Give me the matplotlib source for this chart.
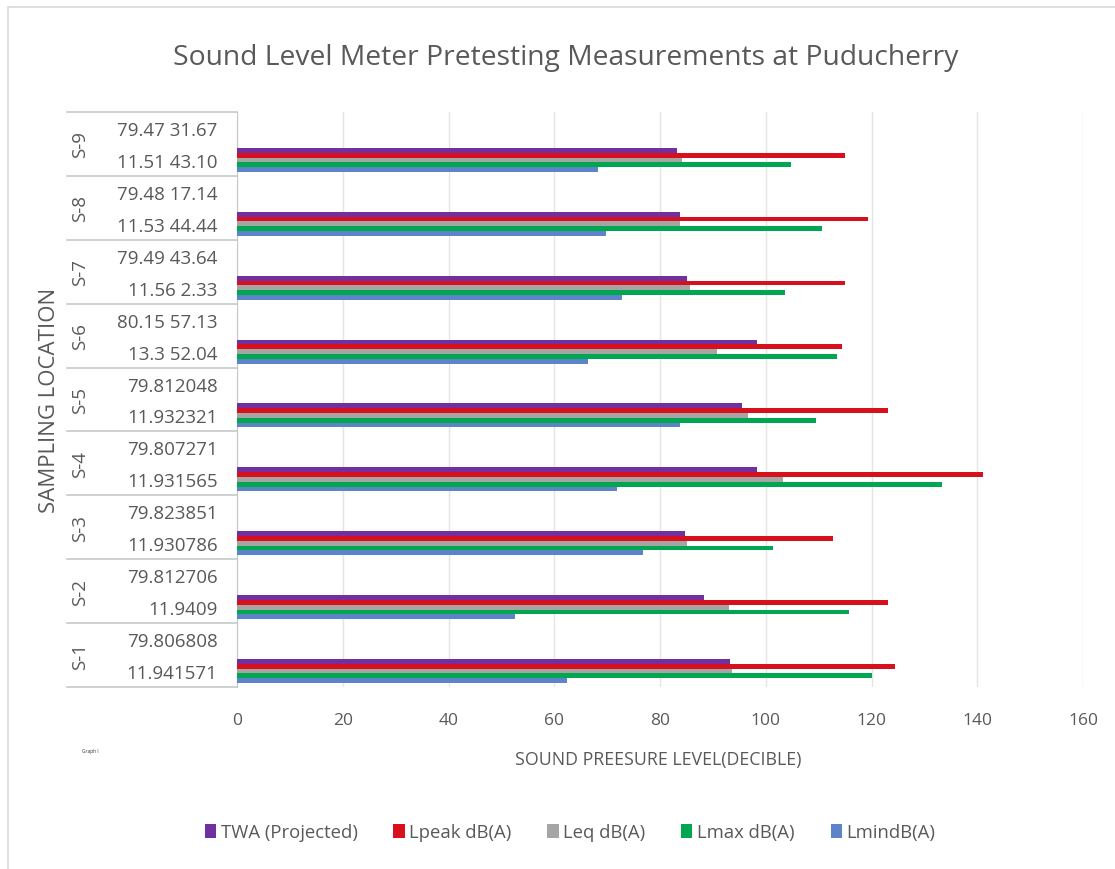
import matplotlib.pyplot as plt
import matplotlib.transforms as mtransforms
from matplotlib.patches import Patch, Rectangle
import numpy as np

plt.rcParams['font.family'] = ['Open Sans', 'DejaVu Sans']

# sampling sites, bottom to top
sites = ['S-1', 'S-2', 'S-3', 'S-4', 'S-5', 'S-6', 'S-7', 'S-8', 'S-9']
longitudes = ['79.806808', '79.812706', '79.823851', '79.807271', '79.812048',
              '80.15 57.13', '79.49 43.64', '79.48 17.14', '79.47 31.67']
latitudes = ['11.941571', '11.9409', '11.930786', '11.931565', '11.932321',
             '13.3 52.04', '11.56 2.33', '11.53 44.44', '11.51 43.10']

series_names = ['TWA (Projected)', 'Lpeak dB(A)', 'Leq dB(A)', 'Lmax dB(A)', 'LmindB(A)']
twa = [93.2, 88.3, 84.7, 98.3, 95.5, 98.3, 85.1, 83.7, 83.2]
lpeak = [124.4, 123.1, 112.7, 141.0, 123.1, 114.5, 114.9, 119.3, 114.9]
leq = [93.6, 93.0, 85.1, 103.2, 96.6, 90.7, 85.6, 83.7, 84.1]
lmax = [120.0, 115.7, 101.3, 133.3, 109.5, 113.4, 103.6, 110.6, 104.7]
lmin = [62.4, 52.6, 76.7, 71.8, 83.7, 66.4, 72.8, 69.8, 68.2]
colors = ['#7030A0', '#D8101E', '#A5A5A5', '#00A650', '#5B85C8']

W, H = 1115, 870
fig = plt.figure(figsize=(W / 100, H / 100), dpi=100)
ax = fig.add_axes([237 / W, 1 - 688 / H, (1083 - 237) / W, (688 - 113) / H])

text_col = '#595959'
line_col = '#c8c8c8'

# outer chart frame
fig.patches.append(Rectangle((8 / W, -0.02), 1.05, 1 - 8 / H + 0.02, transform=fig.transFigure,
                             fill=False, edgecolor='#d9d9d9', lw=1.2))

lat_pos = np.arange(len(sites)) * 2
bar_h = 0.15
for i, (vals, name, col) in enumerate(zip([twa, lpeak, leq, lmax, lmin], series_names, colors)):
    ax.barh(lat_pos + 0.3 - bar_h * i, vals, height=bar_h, color=col, label=name, zorder=3)

ax.set_xlim(0, 160)
ax.set_ylim(-0.5, 2 * len(sites) - 0.5)
ax.set_xticks(np.arange(0, 161, 20))
ax.grid(axis='x', color='#e4e4e4', lw=1, zorder=0)
ax.set_axisbelow(True)

ytick_pos = []
ytick_lab = []
for k in range(len(sites)):
    ytick_pos += [2 * k, 2 * k + 1]
    ytick_lab += [latitudes[k], longitudes[k]]
ax.set_yticks(ytick_pos)
ax.set_yticklabels(ytick_lab)
ax.tick_params(axis='y', length=0, pad=14, labelsize=13.5, labelcolor=text_col)
ax.tick_params(axis='x', length=0, pad=18, labelsize=12.5, labelcolor=text_col)

for s in ['top', 'right', 'bottom']:
    ax.spines[s].set_visible(False)
ax.spines['left'].set_color(line_col)

blend = mtransforms.blended_transform_factory(fig.transFigure, ax.transData)
for k in range(len(sites) + 1):
    y = 2 * k - 0.5
    ax.plot([67 / W, 237 / W], [y, y], transform=blend, clip_on=False, color=line_col, lw=1.2)
for k, s in enumerate(sites):
    ax.text(80 / W, 2 * k + 0.5, s, transform=blend, rotation=90, ha='center', va='center',
            fontsize=13.5, color=text_col)

fig.text(50 / W, 1 - 400 / H, 'SAMPLING LOCATION', rotation=90, ha='center', va='center',
         fontsize=16, color=text_col)
fig.text(566 / W, 1 - 58 / H, 'Sound Level Meter Pretesting Measurements at Puducherry',
         ha='center', va='center', fontsize=20.3, color=text_col)
fig.text(658 / W, 1 - 760 / H, 'SOUND PREESURE LEVEL(DECIBLE)', ha='center', va='center',
         fontsize=12.8, color=text_col)
fig.text(90 / W, 1 - 752 / H, 'Graph I', ha='center', va='center', fontsize=3.5, color='#333333')

handles = [Patch(facecolor=c) for c in colors]
fig.legend(handles, series_names, loc='center', bbox_to_anchor=(570 / W, 1 - 833 / H), ncol=5,
           frameon=False, handlelength=0.6, handleheight=0.8, handletextpad=0.25,
           columnspacing=1.95, fontsize=13.3, labelcolor=text_col)

fig.savefig('out.png', dpi=100)
